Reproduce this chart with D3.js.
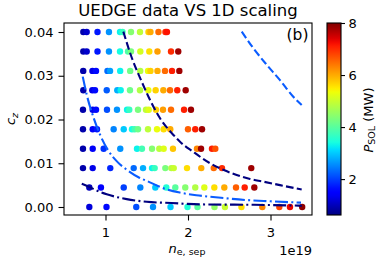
<!DOCTYPE html>
<html><head><meta charset="utf-8">
<script src="https://cdn.jsdelivr.net/npm/d3@7"></script>
<style>body{margin:0;background:#fff}svg{display:block;font-family:"DejaVu Sans",sans-serif}</style>
</head><body><svg id="c" width="381" height="264"></svg>
<script>
// ---- data (ne_sep in 1e19 m^-3, cz, Psol in MW) ----
const czRows = [0, 0.00444, 0.00889, 0.01333, 0.01778, 0.02222, 0.02667, 0.03111, 0.03556, 0.04];
const neRows = [
  [0.804,1.012,1.373,1.576,1.788,1.994,2.115,2.321,2.448,2.648,2.901,3.107,3.236,3.384],
  [0.804,0.945,1.221,1.422,1.604,1.737,1.846,1.967,2.088,2.198,2.319,2.440,2.582,2.687,2.804],
  [0.727,0.845,1.058,1.342,1.455,1.564,1.596,1.725,1.798,1.827,1.988,2.161,2.312,2.412,2.767],
  [0.727,0.845,0.978,1.179,1.382,1.442,1.564,1.652,1.705,1.818,2.109,2.158,2.291,2.331],
  [0.727,0.845,0.897,1.099,1.221,1.321,1.354,1.394,1.515,1.624,1.705,1.785,2.000,2.088,2.170],
  [0.727,0.845,0.885,1.018,1.139,1.261,1.288,1.394,1.491,1.524,1.612,1.697,1.794,1.952,2.036],
  [0.731,0.840,0.873,1.015,1.143,1.184,1.297,1.418,1.519,1.608,1.701,1.782,1.870,1.972],
  [0.730,0.842,0.885,1.024,1.055,1.178,1.299,1.421,1.515,1.545,1.630,1.721,1.806,1.895],
  [0.731,0.772,0.903,1.042,1.176,1.273,1.309,1.422,1.531,1.630,1.794,1.882],
  [0.731,0.772,0.903,1.042,1.176,1.206,1.309,1.418,1.521,1.545,1.642,1.727,1.745]
];
const psolRows = [
  [1.2,1.6,2.1,2.6,3.0,3.5,4.0,4.5,5.0,5.6,6.3,6.8,7.3,7.9],
  [1.0,1.5,2.0,2.5,3.0,3.5,4.0,4.4,4.8,5.2,5.6,6.0,6.6,7.1,7.8],
  [0.9,1.3,1.8,2.3,2.8,3.3,3.7,4.3,4.8,5.0,5.6,6.0,6.5,7.0,7.8],
  [0.9,1.4,1.9,2.6,3.3,3.8,4.4,4.9,5.2,5.8,6.3,7.8,7.1,6.7],
  [0.9,1.4,1.7,2.5,3.0,3.4,3.8,4.2,4.9,5.3,5.6,6.0,6.6,7.1,7.8],
  [0.9,1.3,1.6,2.1,2.6,3.3,3.7,4.3,4.9,5.2,5.7,6.1,6.5,7.1,7.8],
  [0.9,1.3,1.6,2.2,2.8,3.3,4.2,4.8,5.3,5.7,6.0,6.5,7.1,7.8],
  [0.9,1.3,1.6,2.3,2.7,3.3,4.2,4.8,5.3,5.7,6.0,6.5,7.1,7.8],
  [0.9,1.1,1.7,2.6,3.4,3.9,4.3,5.1,5.6,6.1,7.0,7.8],
  [0.9,1.1,1.7,2.6,3.3,3.7,4.4,4.9,5.7,6.0,6.5,7.0,7.2]
];
// scaling curves [ne, cz]
const scalingDashedNavy = [[1.216,0.0401],[1.321,0.0340],[1.424,0.0293],[1.524,0.0251],[1.661,0.0203],[1.827,0.0164],[1.903,0.0149],[2.064,0.0126],[2.267,0.0100],[2.428,0.0085],[2.590,0.0073],[2.752,0.0064],[2.913,0.0058],[3.115,0.0050],[3.378,0.0040]];
const scalingDashedBlue = [[2.651,0.0401],[2.792,0.0363],[2.954,0.0325],[3.115,0.0290],[3.276,0.0252],[3.378,0.0233]];
const scalingDashDotBlue = [[0.724,0.0298],[0.776,0.0254],[0.852,0.0206],[0.937,0.0164],[1.03,0.0130],[1.15,0.0102],[1.26,0.0085],[1.40,0.0068],[1.52,0.0058],[1.70,0.0043],[1.90,0.0033],[2.10,0.0027],[2.40,0.0021],[2.70,0.0016],[3.00,0.0013],[3.37,0.0010]];
const scalingDashDotNavy = [[0.712,0.0053],[0.80,0.0046],[0.90,0.0037],[1.015,0.0029],[1.257,0.0018],[1.50,0.0012],[1.80,0.0009],[2.15,0.0006],[2.80,0.0005],[3.38,0.0003]];
const xTicks = [1, 2, 3];
const yTicks = [0, 0.01, 0.02, 0.03, 0.04];
const cTicks = [2, 4, 6, 8];
const cMin = 0.62, cMax = 8;

// ---- jet colormap ----
const jr = d3.scaleLinear().domain([0,0.35,0.66,0.89,1]).range([0,0,1,1,0.5]).clamp(true);
const jg = d3.scaleLinear().domain([0,0.125,0.375,0.64,0.91,1]).range([0,0,1,1,0,0]).clamp(true);
const jb = d3.scaleLinear().domain([0,0.11,0.34,0.65,1]).range([0.5,1,1,0,0]).clamp(true);
const norm = d3.scaleLinear().domain([cMin,cMax]).range([0,1]).clamp(true);
const jet = t => d3.rgb(jr(t)*255, jg(t)*255, jb(t)*255).formatHex();
const color = v => jet(norm(v));

const svg = d3.select("#c");
const L=64,R=312,T=23,B=215;
const x = d3.scaleLinear().domain([0.497,3.503]).range([L,R]);
const y = d3.scaleLinear().domain([-0.00183,0.04206]).range([B,T]);

svg.append("defs").append("clipPath").attr("id","clip")
  .append("rect").attr("x",L).attr("y",T).attr("width",R-L).attr("height",B-T);

// points
const pts = [];
czRows.forEach((cz,i)=>neRows[i].forEach((ne,j)=>pts.push({ne,cz,p:psolRows[i][j]})));
svg.append("g").selectAll("circle").data(pts).join("circle")
  .attr("cx",d=>x(d.ne)).attr("cy",d=>y(d.cz)).attr("r",3.2)
  .attr("fill",d=>color(d.p));

// lines
const line = d3.line().x(d=>x(d[0])).y(d=>y(d[1])).curve(d3.curveMonotoneX);
const lg = svg.append("g").attr("clip-path","url(#clip)").attr("fill","none").attr("stroke-width",2.1);
lg.append("path").attr("d",line(scalingDashedNavy)).attr("stroke","#00007f").attr("stroke-dasharray","7.7,3.3");
lg.append("path").attr("d",line(scalingDashedBlue)).attr("stroke","#0a5cff").attr("stroke-dasharray","7.7,3.3");
lg.append("path").attr("d",line(scalingDashDotBlue)).attr("stroke","#0a5cff").attr("stroke-dasharray","13,3.3,2,3.3");
lg.append("path").attr("d",line(scalingDashDotNavy)).attr("stroke","#00007f").attr("stroke-dasharray","13,3.3,2,3.3");

// axes
const fs = "13px";
const ax = svg.append("g").attr("transform",`translate(0,${B})`)
  .call(d3.axisBottom(x).tickValues(xTicks).tickFormat(d3.format("d")).tickSize(5.5).tickPadding(7).tickSizeOuter(0));
const ay = svg.append("g").attr("transform",`translate(${L},0)`)
  .call(d3.axisLeft(y).tickValues(yTicks).tickFormat(d3.format(".2f")).tickSize(5.5).tickPadding(5).tickSizeOuter(0));
[ax,ay].forEach(g=>{g.select(".domain").remove();g.selectAll("text").attr("font-size",fs).attr("fill","#000").attr("font-family","DejaVu Sans");g.selectAll("line").attr("stroke","#000").attr("stroke-width",1.1);});
svg.append("rect").attr("x",L).attr("y",T).attr("width",R-L).attr("height",B-T).attr("fill","none").attr("stroke","#000").attr("stroke-width",1.1);

// title & labels
svg.append("text").attr("x",188).attr("y",15.5).attr("text-anchor","middle").attr("font-size","16.5px").text("UEDGE data VS 1D scaling");
svg.append("text").attr("x",308.5).attr("y",39.5).attr("text-anchor","end").attr("font-size","15.5px").text("(b)");
svg.append("text").attr("x",R).attr("y",255).attr("text-anchor","end").attr("font-size",fs).text("1e19");
const xl = svg.append("text").attr("x",187).attr("y",252.5).attr("text-anchor","middle").attr("font-size",fs);
xl.append("tspan").attr("font-style","italic").text("n");
xl.append("tspan").attr("font-size","9.5px").attr("dy",2.5).text("e, sep");
const yl = svg.append("text").attr("transform","translate(15,119) rotate(-90)").attr("text-anchor","middle").attr("font-size",fs);
yl.append("tspan").attr("font-style","italic").text("c");
yl.append("tspan").attr("font-size","9.5px").attr("font-style","italic").attr("dy",2.5).text("z");

// colorbar
const cbL=327, cbW=14;
const cb = d3.scaleLinear().domain([cMin,cMax]).range([B,T]);
const grad = svg.select("defs").append("linearGradient").attr("id","jetg").attr("x1",0).attr("y1",1).attr("x2",0).attr("y2",0);
d3.range(0,1.0001,0.02).forEach(t=>grad.append("stop").attr("offset",t).attr("stop-color",jet(t)));
svg.append("rect").attr("x",cbL).attr("y",T).attr("width",cbW).attr("height",B-T).attr("fill","url(#jetg)");
const ac = svg.append("g").attr("transform",`translate(${cbL+cbW},0)`)
  .call(d3.axisRight(cb).tickValues(cTicks).tickFormat(d3.format("d")).tickSize(4).tickPadding(3.5).tickSizeOuter(0));
ac.select(".domain").remove();
ac.selectAll("text").attr("font-size",fs).attr("fill","#000").attr("font-family","DejaVu Sans");
ac.selectAll("line").attr("stroke","#000").attr("stroke-width",1.1);
svg.append("rect").attr("x",cbL).attr("y",T).attr("width",cbW).attr("height",B-T).attr("fill","none").attr("stroke","#000").attr("stroke-width",1.1);
const cl = svg.append("text").attr("transform","translate(372.5,120) rotate(-90)").attr("text-anchor","middle").attr("font-size",fs);
cl.append("tspan").attr("font-style","italic").text("P");
cl.append("tspan").attr("font-size","9.5px").attr("dy",2.5).text("SOL");
cl.append("tspan").attr("dy",-2.5).text(" (MW)");
</script></body></html>
